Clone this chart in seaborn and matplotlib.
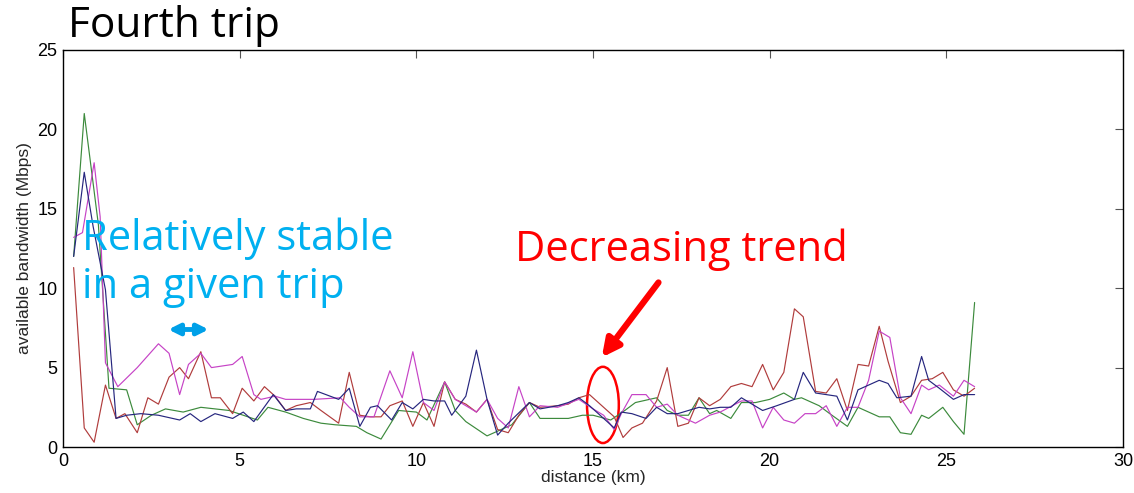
import numpy as np
import pandas as pd
import matplotlib
matplotlib.use("Agg")
import matplotlib.pyplot as plt
import seaborn as sns
from matplotlib.patches import Ellipse

# ---------------- data ----------------
green_x = [0.3, 0.6, 1.0, 1.3, 1.8, 2.1, 2.5, 2.9, 3.4, 3.9, 4.3, 4.7, 5.1, 5.5, 5.8, 6.3, 6.8,
           7.3, 7.7, 8.3, 8.6, 9.0, 9.5, 10.0, 10.3, 10.8, 11.1, 11.4, 12.0, 12.3, 12.7, 13.2, 13.5,
           14.0, 14.3, 14.7, 15.0, 15.5, 15.9, 16.2, 16.8, 17.1, 17.4, 17.7, 18.0, 18.3, 18.5, 18.9,
           19.2, 19.6, 20.0, 20.4, 20.7, 20.9, 21.4, 21.7, 22.2, 22.5, 23.1, 23.4, 23.7, 24.0, 24.3,
           24.5, 24.9, 25.2, 25.5, 25.8]
green_y = [12.0, 21.0, 14.0, 3.7, 3.6, 1.4, 2.0, 2.4, 2.2, 2.5, 2.4, 2.3, 2.0, 1.7, 2.5, 2.2, 1.8,
           1.5, 1.4, 1.3, 0.9, 0.5, 2.3, 2.2, 1.7, 4.1, 2.3, 1.6, 0.7, 1.0, 1.4, 2.8, 1.8,
           1.8, 1.8, 2.0, 2.0, 1.7, 2.3, 2.8, 3.1, 2.3, 2.0, 2.0, 3.1, 2.1, 2.3, 1.8,
           2.8, 2.8, 3.0, 3.4, 3.0, 3.1, 2.6, 2.1, 1.3, 2.5, 1.9, 1.9, 0.9, 0.8, 2.0,
           1.8, 2.5, 1.6, 0.8, 9.1]

blue_x = [0.3, 0.6, 0.85, 1.2, 1.5, 1.8, 2.2, 2.7, 3.3, 3.6, 3.9, 4.3, 4.8, 5.1, 5.4, 5.95, 6.3,
          6.6, 7.0, 7.2, 7.8, 8.1, 8.4, 8.7, 8.9, 9.3, 9.6, 9.9, 10.2, 10.5, 10.8, 11.0, 11.4,
          11.7, 12.0, 12.3, 12.6, 13.2, 13.5, 14.0, 14.3, 14.6, 14.9, 15.2, 15.6, 15.8, 16.1,
          16.5, 16.8, 17.1, 17.4, 18.0, 18.3, 18.6, 18.9, 19.2, 19.8, 20.2, 20.7, 20.95, 21.3,
          21.6, 21.9, 22.2, 22.5, 22.8, 23.1, 23.35, 23.6, 24.0, 24.3, 24.5, 24.8, 25.2, 25.5, 25.8]
blue_y = [12.0, 17.3, 13.9, 9.9, 1.8, 2.0, 2.1, 2.0, 1.7, 2.1, 1.6, 2.1, 1.8, 2.2, 1.6, 3.3, 2.3,
          2.4, 2.4, 3.5, 3.0, 3.7, 1.3, 2.5, 2.6, 1.7, 2.8, 2.4, 3.0, 2.9, 2.9, 2.0, 3.2,
          6.1, 3.0, 0.75, 1.5, 2.8, 2.4, 2.6, 2.8, 3.1, 2.6, 2.0, 1.2, 2.2, 2.1,
          1.8, 2.5, 2.1, 2.1, 2.5, 2.4, 2.5, 2.5, 3.1, 2.3, 2.6, 3.0, 4.7, 3.4,
          3.3, 3.2, 1.7, 3.6, 3.9, 4.2, 4.0, 3.1, 3.2, 5.7, 4.2, 3.7, 3.0, 3.3, 3.3]

red_x = [0.3, 0.6, 0.88, 1.2, 1.5, 1.75, 2.1, 2.4, 2.7, 3.0, 3.3, 3.55, 3.9, 4.2, 4.45, 4.8, 5.07,
         5.4, 5.7, 6.0, 6.3, 6.6, 7.0, 7.3, 7.8, 8.1, 8.4, 8.7, 9.0, 9.25, 9.6, 9.9, 10.2, 10.5,
         10.8, 11.1, 11.4, 11.7, 12.0, 12.3, 12.6, 12.9, 13.2, 13.5, 14.0, 14.3, 14.6, 14.9, 15.3,
         15.6, 15.85, 16.1, 16.4, 16.8, 17.1, 17.4, 17.7, 18.0, 18.3, 18.6, 18.9, 19.2, 19.5, 19.8,
         20.1, 20.4, 20.7, 20.95, 21.3, 21.6, 21.9, 22.2, 22.5, 22.8, 23.1, 23.35, 23.7, 24.0,
         24.3, 24.6, 24.9, 25.2, 25.5, 25.8]
red_y = [11.3, 1.2, 0.3, 3.9, 1.8, 2.1, 0.9, 3.1, 2.7, 4.4, 5.0, 4.3, 6.0, 3.1, 3.1, 2.1, 3.7,
         2.9, 3.8, 3.2, 2.3, 2.6, 2.8, 2.3, 1.5, 4.7, 2.0, 1.9, 1.9, 2.6, 2.9, 1.3, 2.8, 1.3,
         4.1, 3.0, 2.7, 2.2, 3.0, 1.1, 0.9, 2.0, 2.8, 2.5, 2.6, 2.7, 3.1, 3.3, 2.5,
         1.9, 0.6, 1.2, 1.5, 2.9, 5.0, 1.3, 1.5, 3.1, 2.6, 3.0, 3.8, 4.0, 3.8, 5.2,
         3.6, 4.7, 8.7, 8.2, 3.5, 3.4, 4.3, 2.3, 5.2, 5.1, 7.6, 5.4, 2.8, 3.2,
         4.2, 4.3, 4.7, 3.6, 3.2, 3.7]

magenta_x = [0.3, 0.55, 0.88, 1.05, 1.2, 1.55, 2.1, 2.7, 3.0, 3.3, 3.55, 3.9, 4.2, 4.8, 5.07,
             5.4, 5.6, 6.0, 6.3, 7.1, 7.85, 8.1, 8.4, 8.8, 9.25, 9.6, 9.9, 10.2, 10.5, 10.8,
             11.1, 11.7, 12.0, 12.3, 12.6, 12.9, 13.2, 13.5, 14.0, 14.6, 15.0, 15.3, 15.6, 15.8,
             16.1, 16.5, 16.8, 17.1, 17.4, 17.9, 18.3, 18.6, 19.2, 19.5, 19.8, 20.1, 20.4, 20.7,
             21.0, 21.3, 21.6, 21.9, 22.2, 22.5, 22.8, 23.1, 23.4, 23.7, 24.0, 24.3, 24.5, 24.8,
             25.2, 25.5, 25.8]
magenta_y = [13.2, 13.5, 17.9, 14.5, 5.3, 3.8, 5.0, 6.5, 5.9, 3.3, 5.2, 5.9, 5.0, 5.2, 5.7,
             3.3, 3.0, 3.2, 3.0, 3.0, 3.1, 2.5, 1.9, 1.9, 4.8, 3.1, 6.0, 2.8, 2.3, 4.1,
             3.0, 2.2, 3.0, 1.8, 1.2, 3.8, 1.9, 2.6, 2.5, 3.0, 2.4, 2.0, 1.1, 2.1,
             3.3, 3.3, 2.5, 2.7, 2.0, 1.5, 2.0, 2.2, 2.9, 2.9, 1.2, 2.5, 1.7, 1.5,
             2.1, 2.1, 2.6, 1.3, 2.5, 2.5, 4.2, 7.3, 6.9, 3.1, 2.1, 3.9, 3.6, 3.9,
             3.2, 4.2, 3.8]

series_names = ["blue", "green", "red", "magenta"]
series_colors = {"blue": "#26267e", "green": "#3c8a3c", "red": "#b03c3c", "magenta": "#c643c6"}

x_ticks = [0, 5, 10, 15, 20, 25, 30]
y_ticks = [0, 5, 10, 15, 20, 25]

title_text = "Fourth trip"
xlabel_text = "distance (km)"
ylabel_text = "available bandwidth (Mbps)"
note_stable = "Relatively stable\nin a given trip"
note_trend = "Decreasing trend"

# ---------------- build table ----------------
frames = []
for name, xs, ys in [("blue", blue_x, blue_y), ("green", green_x, green_y),
                     ("red", red_x, red_y), ("magenta", magenta_x, magenta_y)]:
    frames.append(pd.DataFrame({"distance": xs, "bw": ys, "series": name}))
df = pd.concat(frames, ignore_index=True)

# ---------------- draw ----------------
sns.set_theme(style="white")
plt.rcParams["font.family"] = ["Liberation Sans", "DejaVu Sans"]

fig = plt.figure(figsize=(11.34, 4.93), dpi=100)
ax = fig.add_axes([0.0556, 0.0933, 0.9347, 0.8053])

for name in ["green", "red", "magenta", "blue"]:
    sub = df[df["series"] == name]
    sns.lineplot(data=sub, x="distance", y="bw", color=series_colors[name],
                 linewidth=0.85, sort=False, estimator=None, ax=ax, legend=False)

ax.set_xlim(0, 30)
ax.set_ylim(0, 25)
ax.set_xticks(x_ticks)
ax.set_yticks(y_ticks)
ax.tick_params(direction="in", length=6, width=0.8, color="#555555",
               top=True, right=True, labelsize=13, labelcolor="black", pad=4)
for s in ax.spines.values():
    s.set_color("black")
    s.set_linewidth(1.0)
ax.set_xlabel(xlabel_text, fontsize=12.5, labelpad=0)
ax.set_ylabel(ylabel_text, fontsize=12.5, labelpad=4)

fig.text(0.06, 0.99, title_text, fontsize=30.5, va="top", ha="left",
         family=["Open Sans", "DejaVu Sans"], color="black")

ax.text(0.55, 11.6, note_stable, fontsize=30, color="#00b0f0", va="center", ha="left",
        family=["Open Sans", "DejaVu Sans"], linespacing=1.2)
ax.annotate("", xy=(2.9, 7.4), xytext=(4.2, 7.4),
            arrowprops=dict(arrowstyle="<|-|>", color="#00a0e8", lw=3.5, mutation_scale=16))

ax.text(12.8, 12.4, note_trend, fontsize=30, color="#ff0000", va="center", ha="left",
        family=["Open Sans", "DejaVu Sans"])
ax.annotate("", xy=(15.2, 5.5), xytext=(16.9, 10.5),
            arrowprops=dict(arrowstyle="-|>", color="#ff0000", lw=4.5, mutation_scale=26))
ax.add_patch(Ellipse((15.28, 2.65), width=0.9, height=4.8, fill=False,
                     edgecolor="#ff0000", lw=1.8))

fig.savefig("out.png", dpi=100)
